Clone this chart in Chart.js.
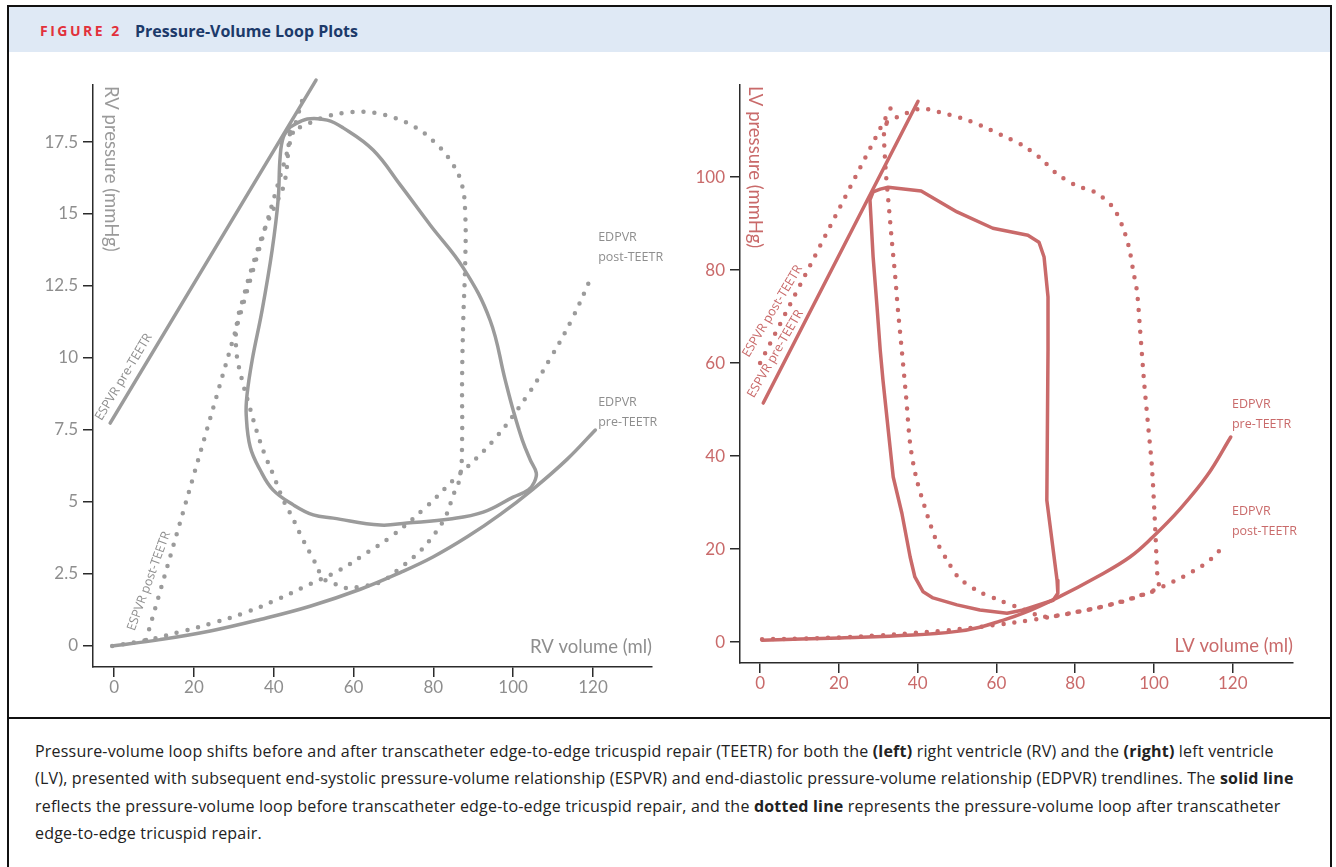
<!DOCTYPE html>
<html>
<head>
<meta charset="utf-8">
<script src="https://cdn.jsdelivr.net/npm/chart.js@4.4.1/dist/chart.umd.min.js"></script>
<style>
  html, body { margin: 0; padding: 0; background: #fff; }
  body { width: 1336px; height: 867px; position: relative; overflow: hidden; font-family: "Open Sans", sans-serif; }
  #frame { position: absolute; left: 7px; top: 5px; width: 1325px; height: 900px; border: 2px solid #111; box-sizing: border-box; }
  #header { position: absolute; left: 9px; top: 7px; width: 1321px; height: 45px; background: #dfe9f5; }
  #fig { position: absolute; left: 40px; top: 21px; font-size: 14px; line-height: 19px; font-weight: 700; letter-spacing: 2.5px; color: #e2313b; }
  #title { position: absolute; left: 135px; top: 20px; font-size: 16px; line-height: 22px; font-weight: 700; color: #1c3a6a; }
  #divider { position: absolute; left: 9px; top: 717px; width: 1321px; height: 2px; background: #111; }
  canvas { position: absolute; }
  #rv { left: 10px; top: 55px; }
  #lv { left: 668px; top: 55px; }
  #caption { position: absolute; left: 35px; top: 738px; font-size: 16px; letter-spacing: 0.2px; line-height: 27.3px; color: #222; white-space: nowrap; }
</style>
</head>
<body>
<div id="frame"></div>
<div id="header"></div>
<div id="fig">FIGURE 2</div>
<div id="title">Pressure-Volume Loop Plots</div>
<canvas id="rv" width="658" height="660"></canvas>
<canvas id="lv" width="660" height="660"></canvas>
<div id="divider"></div>
<div id="caption">
Pressure-volume loop shifts before and after transcatheter edge-to-edge tricuspid repair (TEETR) for both the <b>(left)</b> right ventricle (RV) and the <b>(right)</b> left ventricle<br>
(LV), presented with subsequent end-systolic pressure-volume relationship (ESPVR) and end-diastolic pressure-volume relationship (EDPVR) trendlines. The <b>solid line</b><br>
reflects the pressure-volume loop before transcatheter edge-to-edge tricuspid repair, and the <b>dotted line</b> represents the pressure-volume loop after transcatheter<br>
edge-to-edge tricuspid repair.
</div>
<script>
// tick values
var volTicks = [0, 20, 40, 60, 80, 100, 120];
var rvPresTicks = [0, 2.5, 5, 7.5, 10, 12.5, 15, 17.5];
var lvPresTicks = [0, 20, 40, 60, 80, 100];

// RV loop before TEETR (solid)
var rvPreLoopVol = [44.1, 48.4, 53.4, 57.4, 64.9, 71.7, 79.2, 87.5, 94.2, 98.0, 100.0, 102.3, 104.3, 105.8, 105.3, 103.8, 100.0, 92.5, 84.2, 73.4, 66.7, 54.9, 49.9, 44.9, 39.8, 36.6, 34.1, 33.1, 33.3, 34.6, 37.1, 39.6, 41.1, 41.6, 42.4, 44.1];
var rvPreLoopPres = [18.02, 18.30, 18.26, 17.99, 17.22, 16.01, 14.62, 13.13, 11.32, 9.24, 8.19, 7.15, 6.46, 6.01, 5.69, 5.42, 5.17, 4.65, 4.41, 4.27, 4.20, 4.44, 4.55, 4.90, 5.42, 6.11, 6.91, 8.02, 8.72, 9.93, 11.67, 13.75, 15.49, 16.98, 17.67, 18.02];
// RV loop after TEETR (dotted)
var rvPostLoopVol = [44.1, 48.4, 53.6, 59.6, 65.4, 70.4, 75.4, 80.5, 84.7, 87.2, 88.0, 88.0, 87.5, 87.2, 87.2, 86.7, 85.0, 83.0, 79.7, 76.2, 71.7, 66.7, 61.2, 58.1, 55.4, 52.6, 49.9, 47.1, 44.6, 42.4, 39.8, 37.6, 35.8, 34.1, 31.8, 30.6, 30.8, 32.3, 33.8, 35.6, 37.8, 40.4, 42.4, 43.4, 43.6, 44.1];
var rvPostLoopPres = [17.85, 18.13, 18.4, 18.54, 18.51, 18.33, 18.02, 17.47, 16.77, 16.0, 14.97, 13.4, 11.32, 9.24, 7.15, 5.87, 5.24, 4.48, 3.78, 3.23, 2.71, 2.22, 2.05, 2.01, 2.15, 2.33, 3.02, 3.75, 4.48, 5.07, 5.97, 6.7, 7.43, 8.23, 9.38, 10.28, 11.25, 12.05, 12.81, 13.61, 14.51, 15.31, 15.94, 16.74, 17.22, 17.85];
// RV trendlines
var rvEspvrPreVol = [-1.0, 50.6];
var rvEspvrPrePres = [7.74, 19.65];
var rvEspvrPostVol = [8.0, 47.6];
var rvEspvrPostPres = [0.21, 19.17];
var rvEdpvrPreVol = [-0.5, 11.5, 24.1, 36.6, 49.1, 61.7, 71.7, 79.9, 88.5, 96.7, 105.0, 113.5, 120.6];
var rvEdpvrPrePres = [0, 0.22, 0.52, 0.92, 1.38, 1.97, 2.55, 3.09, 3.79, 4.56, 5.45, 6.48, 7.5];
var rvEdpvrPostVol = [-0.5, 8.3, 16.5, 24.8, 33.3, 41.1, 49.1, 56.6, 61.7, 69.2, 77.9, 85.0, 94.7, 103.3, 109.5, 115.0, 119.8];
var rvEdpvrPostPres = [0, 0.21, 0.49, 0.8, 1.18, 1.63, 2.15, 2.64, 3.09, 3.78, 4.79, 5.76, 7.08, 8.65, 10.03, 11.42, 12.88];

// LV loop before TEETR (solid)
var lvPreLoopVol = [27.9, 28.7, 30.5, 32.5, 40.9, 50.0, 59.1, 68.0, 70.8, 72.1, 73.1, 73.1, 72.8, 75.4, 75.6, 74.4, 66.8, 62.7, 55.8, 50.0, 43.9, 41.4, 39.3, 38.1, 36.0, 33.8, 31.2, 30.5, 29.7, 28.7, 27.9];
var lvPreLoopPres = [95.1, 96.8, 97.4, 97.8, 97.0, 92.5, 89.0, 87.5, 86.0, 82.8, 74.2, 62.8, 30.5, 13.3, 10.5, 9.0, 6.9, 6.2, 6.9, 8.0, 9.5, 10.8, 14.0, 18.3, 27.7, 35.5, 56.3, 62.8, 72.0, 82.8, 95.1];
// LV loop after TEETR (dotted)
var lvPostLoopVol = [32.2, 34.8, 37.3, 40.1, 42.6, 45.4, 51.0, 56.3, 61.4, 66.5, 71.1, 75.1, 80.0, 85.3, 89.6, 92.1, 93.7, 94.7, 95.7, 96.4, 97.5, 98.5, 99.5, 100.3, 100.8, 101.0, 96.4, 90.9, 85.5, 80.0, 74.1, 71.1, 66.0, 60.7, 55.3, 50.5, 47.5, 44.7, 41.9, 39.6, 38.1, 37.1, 35.8, 35.0, 34.3, 33.5, 32.5, 32.0, 31.5, 31.5, 32.2];
var lvPostLoopPres = [111.8, 112.9, 113.8, 114.6, 114.6, 114.0, 112.7, 111.0, 109.0, 106.9, 104.1, 100.9, 98.3, 96.6, 93.5, 89.2, 84.7, 80.0, 75.3, 68.0, 55.9, 46.7, 37.4, 24.7, 15.1, 11.6, 10.0, 8.5, 7.3, 6.4, 5.5, 5.6, 7.3, 9.0, 11.0, 13.8, 17.6, 21.9, 28.8, 35.5, 42.6, 52.5, 64.3, 71.4, 78.7, 85.8, 95.5, 100.2, 107.3, 109.7, 111.8];
// LV trendlines
var lvEspvrPreVol = [0.8, 40.1];
var lvEspvrPrePres = [51.4, 116.3];
var lvEspvrPostVol = [0, 33.8];
var lvEspvrPostPres = [60.0, 115.9];
var lvEdpvrPreVol = [0.5, 20.3, 38.8, 50, 55.8, 60.9, 66.8, 75.4, 85.5, 93.9, 99.7, 106.6, 113.5, 119.5];
var lvEdpvrPrePres = [0.4, 0.9, 1.5, 2.3, 3.2, 4.5, 6.2, 9.5, 14.0, 18.3, 22.6, 28.6, 35.8, 44.1];
var lvEdpvrPostVol = [0.5, 10.2, 20.3, 30.5, 37.3, 45.7, 54.1, 60.9, 68.5, 76.9, 83.0, 88.3, 93.9, 99.0, 103.6, 108.6, 113.5, 117.5];
var lvEdpvrPostPres = [0.6, 0.75, 1.0, 1.45, 1.85, 2.4, 3.1, 3.8, 4.7, 5.9, 6.9, 7.9, 9.2, 10.8, 12.5, 14.6, 17.2, 20.4];

var rvColor = '#9b9b9b';
var lvColor = '#c96a6a';
var axisColor = '#2b2b2b';

function pts(xs, ys) {
    return xs.map(function(x, i) { return { x: x, y: ys[i] }; });
}

function solid(xs, ys, color, tension) {
    return { data: pts(xs, ys), borderColor: color, borderWidth: 3.5, showLine: true, pointRadius: 0,
             tension: tension, clip: false, borderCapStyle: 'round', borderJoinStyle: 'round' };
}
function dotted(xs, ys, color, tension) {
    return { data: pts(xs, ys), borderColor: color, borderWidth: 4.5, showLine: true, pointRadius: 0,
             tension: tension, clip: false, borderDash: [0, 11], borderCapStyle: 'round' };
}

// draws axis titles and trendline names as canvas text
var textLabels = {
    id: 'textLabels',
    afterDraw: function(chart, args, opts) {
        var ctx = chart.ctx, xs = chart.scales.x, ys = chart.scales.y, area = chart.chartArea;
        opts.items.forEach(function(it) {
            var px, py;
            if (it.area) {
                px = (it.area[0] === 'left' ? area.left : area.right) + it.dx;
                py = (it.area[1] === 'top' ? area.top : area.bottom) + it.dy;
            } else {
                px = xs.getPixelForValue(it.x);
                py = ys.getPixelForValue(it.y);
            }
            ctx.save();
            ctx.font = it.font;
            ctx.fillStyle = it.color;
            ctx.textAlign = it.align || 'left';
            ctx.textBaseline = it.baseline || 'alphabetic';
            ctx.translate(px, py);
            ctx.rotate((it.angle || 0) * Math.PI / 180);
            it.lines.forEach(function(t, i) { ctx.fillText(t, 0, i * (it.lineHeight || 0)); });
            ctx.restore();
        });
    }
};

function makeChart(id, datasets, o) {
    var tickFont = { family: 'Lato', size: 17 };
    return new Chart(document.getElementById(id), {
        type: 'scatter',
        data: { datasets: datasets },
        plugins: [textLabels],
        options: {
            responsive: false,
            animation: false,
            devicePixelRatio: 1,
            layout: { padding: o.padding },
            plugins: { legend: { display: false }, tooltip: { enabled: false }, textLabels: { items: o.labels } },
            scales: {
                x: {
                    type: 'linear', min: o.xMin, max: o.xMax,
                    afterBuildTicks: function(s) { s.ticks = volTicks.map(function(v) { return { value: v }; }); },
                    afterFit: function(s) { s.height = 40; },
                    ticks: { color: o.tickColor, font: tickFont, padding: 0, callback: function(v) { return String(v); } },
                    grid: { drawOnChartArea: false, drawTicks: true, tickLength: 10, color: axisColor, lineWidth: 1.5 },
                    border: { display: true, color: axisColor, width: 1.5 }
                },
                y: {
                    type: 'linear', min: o.yMin, max: o.yMax,
                    afterBuildTicks: function(s) { s.ticks = o.yTicks.map(function(v) { return { value: v }; }); },
                    afterFit: function(s) { s.width = o.yWidth; },
                    ticks: { color: o.tickColor, font: tickFont, padding: 5, callback: function(v) { return String(v); } },
                    grid: { drawOnChartArea: false, drawTicks: true, tickLength: 10, color: axisColor, lineWidth: 1.5 },
                    border: { display: true, color: axisColor, width: 1.5 }
                }
            }
        }
    });
}

var small = '12.5px "Open Sans"';
var big = '18.5px Lato';

makeChart('rv', [
    solid(rvEspvrPreVol, rvEspvrPrePres, rvColor, 0),
    dotted(rvEspvrPostVol, rvEspvrPostPres, rvColor, 0),
    solid(rvEdpvrPreVol, rvEdpvrPrePres, rvColor, 0.4),
    dotted(rvEdpvrPostVol, rvEdpvrPostPres, rvColor, 0.4),
    dotted(rvPostLoopVol, rvPostLoopPres, rvColor, 0.4),
    solid(rvPreLoopVol, rvPreLoopPres, rvColor, 0.4)
], {
    xMin: -5.3, xMax: 134.8, yMin: -0.73, yMax: 19.48, yTicks: rvPresTicks, yWidth: 83,
    padding: { top: 30, right: 16, bottom: 8, left: 0 }, tickColor: '#8e8e8e',
    labels: [
        { area: ['left', 'top'], dx: 12, dy: 1, angle: 90, font: big, color: '#9a9a9a', lines: ['RV pressure (mmHg)'] },
        { area: ['right', 'bottom'], dx: 0, dy: -14, align: 'right', font: big, color: '#8e8e8e', lines: ['RV volume (ml)'] },
        { x: 121.3, y: 14.2, baseline: 'middle', font: small, color: '#8e8e8e', lineHeight: 20, lines: ['EDPVR', 'post-TEETR'] },
        { x: 121.3, y: 8.47, baseline: 'middle', font: small, color: '#8e8e8e', lineHeight: 20, lines: ['EDPVR', 'pre-TEETR'] },
        { x: -3.2, y: 7.8, angle: -59, font: small, color: '#8e8e8e', lines: ['ESPVR pre-TEETR'] },
        { x: 5.1, y: 0.5, angle: -70, font: small, color: '#8e8e8e', lines: ['ESPVR post-TEETR'] }
    ]
});

makeChart('lv', [
    solid(lvEspvrPreVol, lvEspvrPrePres, lvColor, 0),
    dotted(lvEspvrPostVol, lvEspvrPostPres, lvColor, 0),
    solid(lvEdpvrPreVol, lvEdpvrPrePres, lvColor, 0.4),
    dotted(lvEdpvrPostVol, lvEdpvrPostPres, lvColor, 0.4),
    dotted(lvPostLoopVol, lvPostLoopPres, lvColor, 0.3),
    solid(lvPreLoopVol, lvPreLoopPres, lvColor, 0)
], {
    xMin: -5.1, xMax: 135.3, yMin: -4.5, yMax: 119.8, yTicks: lvPresTicks, yWidth: 72,
    padding: { top: 30, right: 35, bottom: 12, left: 0 }, tickColor: '#c96a6a',
    labels: [
        { area: ['left', 'top'], dx: 9, dy: 1, angle: 90, font: big, color: '#c96a6a', lines: ['LV pressure (mmHg)'] },
        { area: ['right', 'bottom'], dx: 0, dy: -11, align: 'right', font: big, color: '#c96a6a', lines: ['LV volume (ml)'] },
        { x: 119.8, y: 51.2, baseline: 'middle', font: small, color: '#c96a6a', lineHeight: 20, lines: ['EDPVR', 'pre-TEETR'] },
        { x: 119.8, y: 28.0, baseline: 'middle', font: small, color: '#c96a6a', lineHeight: 20, lines: ['EDPVR', 'post-TEETR'] },
        { x: -2.9, y: 61.1, angle: -59, font: small, color: '#c96a6a', lines: ['ESPVR post-TEETR'] },
        { x: -1.6, y: 52.4, angle: -60, font: small, color: '#c96a6a', lines: ['ESPVR pre-TEETR'] }
    ]
});
</script>
</body>
</html>
